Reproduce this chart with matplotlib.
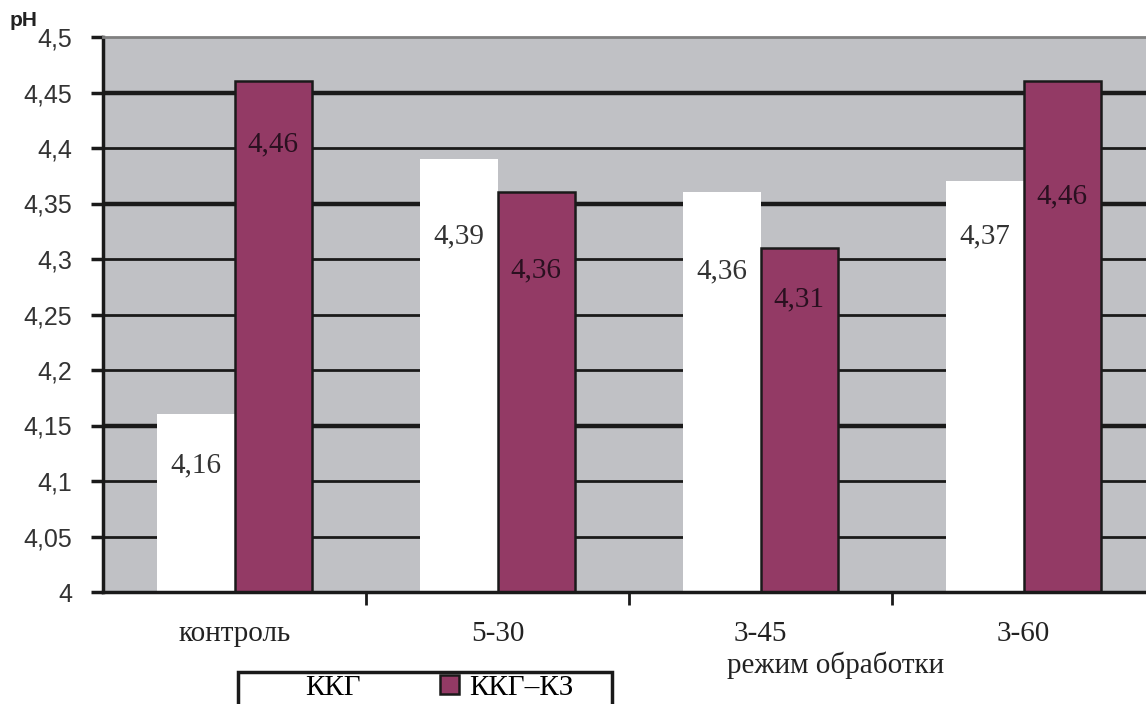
import matplotlib.pyplot as plt
import matplotlib.patches as mpatches
import numpy as np

# pH по режимам обработки
categories = ['контроль', '5-30', '3-45', '3-60']
series_names = ['ККГ', 'ККГ–КЗ']
kkg = [4.16, 4.39, 4.36, 4.37]
kkg_kz = [4.46, 4.36, 4.31, 4.46]
y_ticks = [4.0, 4.05, 4.1, 4.15, 4.2, 4.25, 4.3, 4.35, 4.4, 4.45, 4.5]
y_tick_labels = ['4', '4,05', '4,1', '4,15', '4,2', '4,25', '4,3', '4,35', '4,4', '4,45', '4,5']

# where the value labels sit inside the bars
kkg_label_y = [4.114, 4.320, 4.289, 4.320]
kkg_kz_label_y = [4.403, 4.290, 4.264, 4.356]

purple = '#933a65'
grey_bg = '#c0c1c5'
ink = '#222222'
serif = 'Liberation Serif'

W, H = 1146, 704
fig = plt.figure(figsize=(W / 100, H / 100), dpi=100)
# plot area runs slightly past the right edge of the figure
ax = fig.add_axes([103 / W, 1 - 592 / H, 1052 / W, (592 - 37) / H])
ax.set_facecolor(grey_bg)

x = np.arange(len(categories))
w = 0.295

# horizontal gridlines, some drawn heavier
heavy = {4.15, 4.35, 4.45}
for t in y_ticks[1:-1]:
    ax.axhline(t, color='#1a1a1a', lw=3.2 if round(t, 2) in heavy else 2.0, zorder=1)

b1 = ax.bar(x - w / 2, np.array(kkg) - 4, bottom=4, width=w, color='white',
            edgecolor='white', lw=0, zorder=2, label=series_names[0])
b2 = ax.bar(x + w / 2, np.array(kkg_kz) - 4, bottom=4, width=w, color=purple,
            edgecolor='#1a1a1a', lw=1.8, zorder=2, label=series_names[1])

for xi, v, ly in zip(x, kkg, kkg_label_y):
    ax.text(xi - w / 2, ly, f'{v:.2f}'.replace('.', ','), ha='center', va='center',
            fontsize=21, family=serif, color='#333333', zorder=3)
for xi, v, ly in zip(x, kkg_kz, kkg_kz_label_y):
    ax.text(xi + w / 2, ly, f'{v:.2f}'.replace('.', ','), ha='center', va='center',
            fontsize=21, family=serif, color='#2a1020', zorder=3)

ax.set_xlim(-0.5, 3.5)
ax.set_ylim(4.0, 4.5)

ax.set_yticks(y_ticks)
ax.set_yticklabels(y_tick_labels, fontsize=18, family='Liberation Sans', color='#333333')
ax.tick_params(axis='y', direction='out', length=9, width=2.5, pad=13, color='#1a1a1a')

# boundaries between groups carry the tick marks, names go on minor ticks
ax.set_xticks([0.5, 1.5, 2.5])
ax.set_xticklabels([])
ax.tick_params(axis='x', which='major', direction='out', length=9, width=2, color='#1a1a1a')
ax.set_xticks(x, minor=True)
ax.set_xticklabels(categories, minor=True, fontsize=21, family=serif, color=ink)
ax.tick_params(axis='x', which='minor', length=0, pad=21)

for s in ['left', 'bottom']:
    ax.spines[s].set_linewidth(2.5)
    ax.spines[s].set_color('#1a1a1a')
ax.spines['top'].set_color('#808080')
ax.spines['top'].set_linewidth(2)
ax.spines['right'].set_visible(False)

fig.text(836 / W, 1 - 665 / H, 'режим обработки', ha='center', va='center',
         fontsize=21, family=serif, color=ink)
fig.text(10 / W, 1 - 20 / H, 'pH', ha='left', va='center', fontsize=15,
         fontweight='bold', family='Liberation Sans', color=ink)

# legend box at the bottom, cut off by the lower edge
leg = fig.legend(handles=[b1, b2], labels=series_names, loc='upper left',
                 bbox_to_anchor=(276 / W, 1 - 675 / H), ncol=2, frameon=False,
                 prop={'family': serif, 'size': 21},
                 handlelength=0.65, handleheight=0.65, handletextpad=0.35,
                 columnspacing=2.7, borderpad=0, borderaxespad=0)
frame = mpatches.Rectangle((238 / W, -0.02), 374 / W, 0.02 + 32 / H,
                           transform=fig.transFigure, fill=False,
                           edgecolor='#1a1a1a', lw=2.5, clip_on=False)
fig.add_artist(frame)

fig.savefig('out.png', dpi=100)
